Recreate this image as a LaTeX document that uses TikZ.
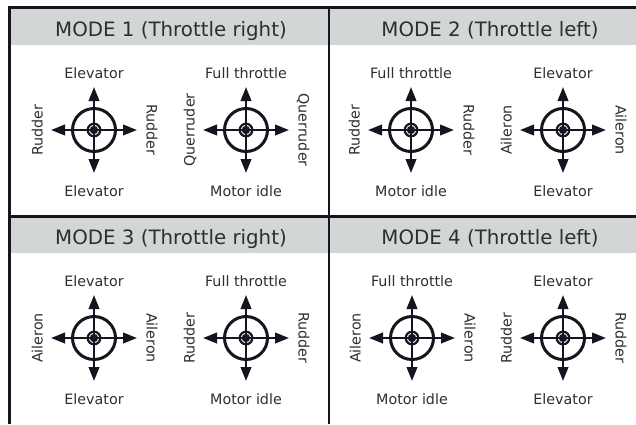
\documentclass[tikz,border=0pt]{standalone}
\usepackage{fontspec}
\setmainfont{DejaVu Sans}
\usetikzlibrary{arrows.meta}
\definecolor{headgray}{HTML}{D3D6D7}
\definecolor{framedark}{HTML}{15151F}
\definecolor{labelgray}{HTML}{2E2E2E}

\begin{document}
\begin{tikzpicture}[x=1pt,y=-1pt,
    frame/.style={line width=2.8pt, draw=framedark},
    ring/.style={line width=3pt, draw=framedark},
    innerring/.style={line width=2.2pt, draw=framedark},
    stickarrow/.style={line width=2.3pt, draw=framedark, fill=framedark,
      -{Triangle[length=14pt,width=10.5pt]}},
    lbl/.style={font=\fontsize{14.3}{16}\selectfont, text=labelgray, inner sep=0pt, anchor=base},
    headtext/.style={font=\fontsize{19.8}{22}\selectfont, text=labelgray, inner sep=0pt, anchor=base}]
    \useasboundingbox (0,0) rectangle (636,424);

    % header bands
    \fill[headgray] (10,8) rectangle (636,44.5);
    \fill[headgray] (10,217) rectangle (636,252.5);

    % panel frame
    \draw[frame] (636,7.5) -- (9.5,7.5) -- (9.5,424);
    \draw[frame] (9.5,216.5) -- (636,216.5);
    \draw[frame] (329,7.5) -- (329,424);

    % mode titles
    \node[headtext] (mode1) at (171,36.5) {MODE 1 (Throttle right)};
    \node[headtext] (mode2) at (490,36.5) {MODE 2 (Throttle left)};
    \node[headtext] (mode3) at (171,244.5) {MODE 3 (Throttle right)};
    \node[headtext] (mode4) at (490,244.5) {MODE 4 (Throttle left)};

    % sticks: index / centre / top / bottom / side labels
    \foreach \i/\cx/\cy/\up/\down/\side in {
        1/94/130/Elevator/Elevator/Rudder,
        2/246/130/Full throttle/Motor idle/Querruder,
        3/411/130/Full throttle/Motor idle/Rudder,
        4/563/130/Elevator/Elevator/Aileron,
        5/94/338/Elevator/Elevator/Aileron,
        6/246/338/Full throttle/Motor idle/Rudder,
        7/412/338/Full throttle/Motor idle/Aileron,
        8/563/338/Elevator/Elevator/Rudder} {
        \coordinate (c\i) at (\cx,\cy);
        \coordinate (n\i) at (\cx,\cy-43);
        \coordinate (s\i) at (\cx,\cy+43);
        \coordinate (w\i) at (\cx-43,\cy);
        \coordinate (e\i) at (\cx+43,\cy);
        \draw[ring] (c\i) circle[radius=21.5];
        \draw[innerring] (c\i) circle[radius=6.3];
        \fill[framedark] (c\i) circle[radius=4.2];
        \draw[stickarrow] (c\i) -- (n\i);
        \draw[stickarrow] (c\i) -- (s\i);
        \draw[stickarrow] (c\i) -- (w\i);
        \draw[stickarrow] (c\i) -- (e\i);
        \node[lbl] (top\i) at (\cx,\cy-51.5) {\up};
        \node[lbl] (bot\i) at (\cx,\cy+66.5) {\down};
        \node[lbl, rotate=90] (lft\i) at (\cx-51.5,\cy) {\side};
        \node[lbl, rotate=-90] (rgt\i) at (\cx+52.5,\cy) {\side};
    }
\end{tikzpicture}
\end{document}
